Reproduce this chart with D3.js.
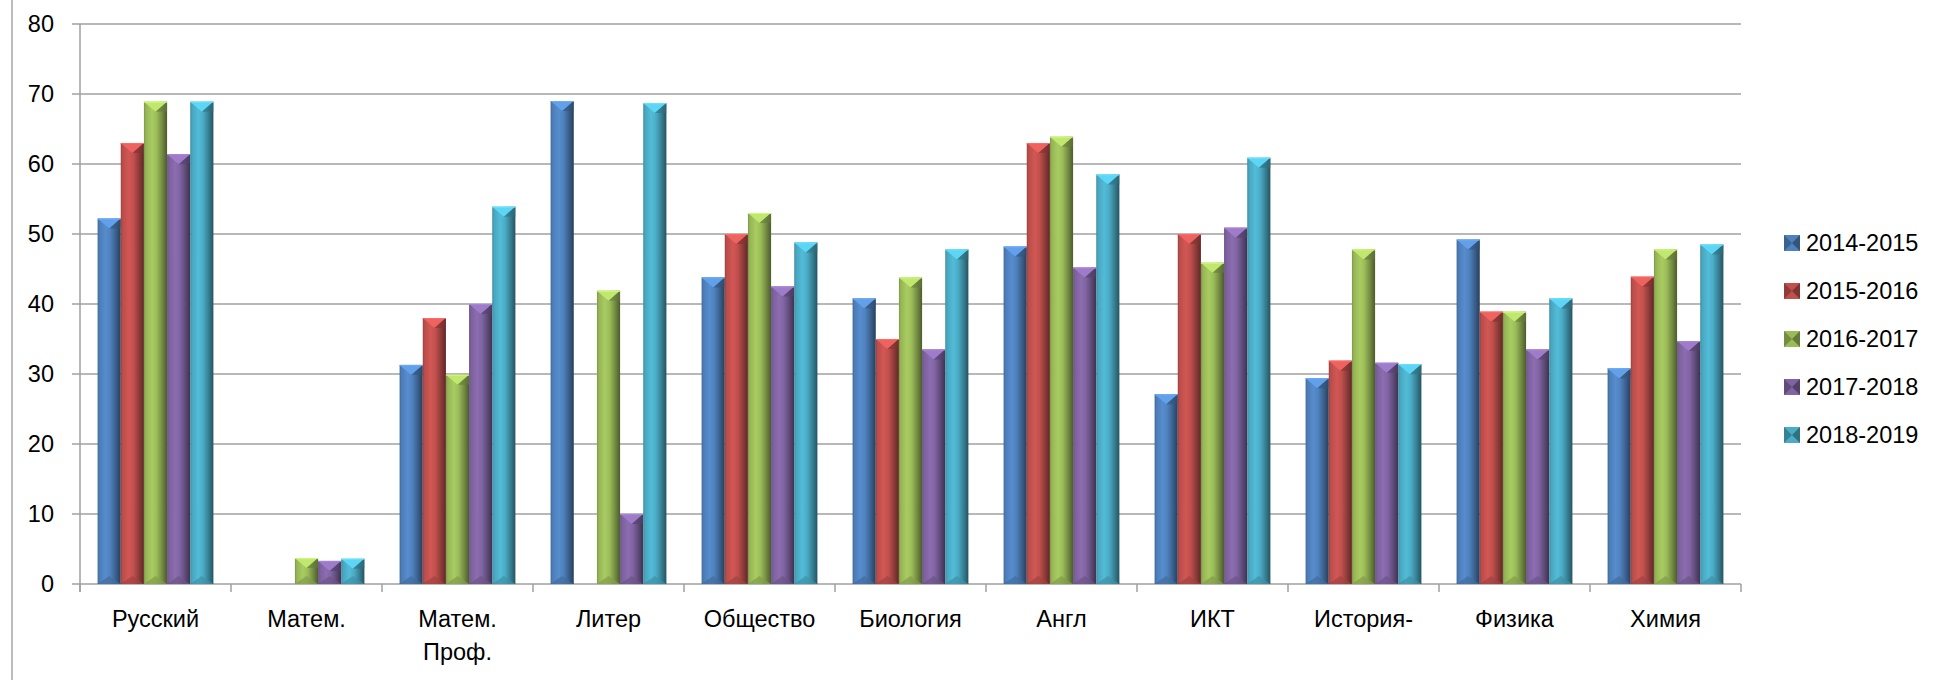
<!DOCTYPE html>
<html>
<head>
<meta charset="utf-8">
<script src="https://cdn.jsdelivr.net/npm/d3@7"></script>
<style>
  html, body { margin: 0; padding: 0; background: #fff; }
  svg { display: block; font-family: "Liberation Sans", Arial, sans-serif; }
</style>
</head>
<body>
<svg id="chart" width="1945" height="680"></svg>
<script>
const categories = ["Русский", "Матем.", "Матем.\nПроф.", "Литер", "Общество", "Биология", "Англ", "ИКТ", "История-", "Физика", "Химия"];
const seriesNames = ["2014-2015", "2015-2016", "2016-2017", "2017-2018", "2018-2019"];
const s2014 = [52.2, 0, 31.3, 69, 43.8, 40.8, 48.2, 27.1, 29.4, 49.2, 30.8];
const s2015 = [63, 0, 38, 0, 50, 35, 63, 50, 31.9, 38.9, 43.9];
const s2016 = [68.9, 3.7, 29.9, 41.9, 53, 43.8, 63.9, 45.9, 47.8, 38.9, 47.8];
const s2017 = [61.4, 3.3, 40, 10, 42.5, 33.5, 45.2, 50.9, 31.6, 33.5, 34.7];
const s2018 = [68.9, 3.6, 53.9, 68.7, 48.8, 47.8, 58.5, 60.9, 31.4, 40.8, 48.5];
const yTicks = [0, 10, 20, 30, 40, 50, 60, 70, 80];
const colors = ["#4f81bd", "#c0504d", "#9bbb59", "#8064a2", "#4bacc6"];

(function () {
const seriesValues = [s2014, s2015, s2016, s2017, s2018];

const svg = d3.select("#chart");
const pLeft = 80, pRight = 1741, pTop = 24, pBottom = 584;

const x0 = d3.scaleBand().domain(categories).range([pLeft, pRight]).paddingInner(0).paddingOuter(0);
const x1 = d3.scaleBand().domain(seriesNames).range([0, x0.bandwidth()]).paddingInner(0).paddingOuter(0.76);
const y = d3.scaleLinear().domain([0, 80]).range([pBottom, pTop]);

// gradients
const defs = svg.append("defs");
colors.forEach((c, i) => {
  const base = d3.color(c);
  const g = defs.append("linearGradient").attr("id", "g" + i).attr("x1", "0").attr("x2", "1").attr("y1", "0").attr("y2", "0");
  g.append("stop").attr("offset", "0%").attr("stop-color", base.darker(0.6));
  g.append("stop").attr("offset", "8%").attr("stop-color", base.darker(0.1));
  g.append("stop").attr("offset", "35%").attr("stop-color", base.brighter(0.25));
  g.append("stop").attr("offset", "55%").attr("stop-color", base);
  g.append("stop").attr("offset", "80%").attr("stop-color", base.darker(0.9));
  g.append("stop").attr("offset", "100%").attr("stop-color", base.darker(2));
});

// left border line
svg.append("line").attr("x1", 12).attr("x2", 12).attr("y1", 0).attr("y2", 680)
  .attr("stroke", "#a6a6a6").attr("stroke-width", 1.5);

// gridlines
svg.append("g").selectAll("line").data(yTicks).join("line")
  .attr("x1", pLeft - 8).attr("x2", pRight)
  .attr("y1", d => y(d)).attr("y2", d => y(d))
  .attr("stroke", "#a0a0a0").attr("stroke-width", 1.5);

// y axis line
svg.append("line").attr("x1", pLeft).attr("x2", pLeft).attr("y1", pTop).attr("y2", pBottom + 8)
  .attr("stroke", "#a0a0a0").attr("stroke-width", 1.5);

// category ticks
const catEdges = categories.map(c => x0(c)).concat([pRight]);
svg.append("g").selectAll("line").data(catEdges).join("line")
  .attr("x1", d => d).attr("x2", d => d).attr("y1", pBottom).attr("y2", pBottom + 8)
  .attr("stroke", "#a0a0a0").attr("stroke-width", 1.5);

// y tick labels
svg.append("g").selectAll("text").data(yTicks).join("text")
  .attr("x", 54).attr("y", d => y(d)).attr("dy", "0.35em")
  .attr("text-anchor", "end").attr("font-size", 23.5).attr("fill", "#000")
  .text(d => d);

// category labels
const cl = svg.append("g").selectAll("text").data(categories).join("text")
  .attr("x", d => x0(d) + x0.bandwidth() / 2).attr("y", 627)
  .attr("text-anchor", "middle").attr("font-size", 23.5).attr("fill", "#000");
cl.each(function(d) {
  const parts = d.split("\n");
  d3.select(this).selectAll("tspan").data(parts).join("tspan")
    .attr("x", x0(d) + x0.bandwidth() / 2)
    .attr("dy", (p, i) => i === 0 ? 0 : 33)
    .text(p => p);
});

// bars
const barData = [];
categories.forEach((c, ci) => {
  seriesNames.forEach((s, si) => {
    barData.push({ c, s, si, v: seriesValues[si][ci] });
  });
});
const bars = svg.append("g").selectAll("g").data(barData.filter(d => d.v > 0)).join("g");
const bw = x1.bandwidth();
bars.append("rect")
  .attr("x", d => x0(d.c) + x1(d.s)).attr("y", d => y(d.v))
  .attr("width", bw).attr("height", d => y(0) - y(d.v))
  .attr("fill", d => "url(#g" + d.si + ")");
// top cap
bars.append("path")
  .attr("d", d => {
    const x = x0(d.c) + x1(d.s), t = y(d.v);
    const h = Math.min(10, (y(0) - y(d.v)) / 2);
    return `M${x},${t} L${x + bw},${t} L${x + bw / 2},${t + h} Z`;
  })
  .attr("fill", d => d3.color(colors[d.si]).brighter(0.6));
bars.append("path")
  .attr("d", d => {
    const x = x0(d.c) + x1(d.s), t = y(d.v);
    const h = Math.min(10, (y(0) - y(d.v)) / 2);
    return `M${x + bw},${t} L${x + bw},${t + h} L${x + bw / 2},${t + h} Z`;
  })
  .attr("fill", d => d3.color(colors[d.si]).darker(1.2)).attr("opacity", 0.6);
bars.append("line")
  .attr("x1", d => x0(d.c) + x1(d.s)).attr("x2", d => x0(d.c) + x1(d.s) + bw)
  .attr("y1", d => y(d.v) + 0.5).attr("y2", d => y(d.v) + 0.5)
  .attr("stroke", d => d3.color(colors[d.si]).brighter(0.8)).attr("stroke-width", 1);
// bottom bevel
bars.append("path")
  .attr("d", d => {
    const x = x0(d.c) + x1(d.s), b = y(0);
    const h = Math.min(8, (y(0) - y(d.v)) / 2);
    return `M${x},${b} L${x + bw},${b} L${x + bw / 2},${b - h} Z`;
  })
  .attr("fill", d => d3.color(colors[d.si]).darker(0.5)).attr("opacity", 0.7);

// legend
const lg = svg.append("g").selectAll("g").data(seriesNames).join("g")
  .attr("transform", (d, i) => `translate(1784, ${243 + i * 48})`);
lg.append("rect").attr("x", 0).attr("y", -8).attr("width", 16).attr("height", 16)
  .attr("fill", (d, i) => colors[i]);
lg.append("path").attr("d", "M0,-8 L8,0 L0,8 Z").attr("fill", (d, i) => d3.color(colors[i]).darker(0.8));
lg.append("path").attr("d", "M16,-8 L8,0 L16,8 Z").attr("fill", (d, i) => d3.color(colors[i]).darker(1.2));
lg.append("text").attr("x", 22).attr("y", 0).attr("dy", "0.35em")
  .attr("font-size", 23.5).attr("fill", "#000").text(d => d);
})();
</script>
</body>
</html>
